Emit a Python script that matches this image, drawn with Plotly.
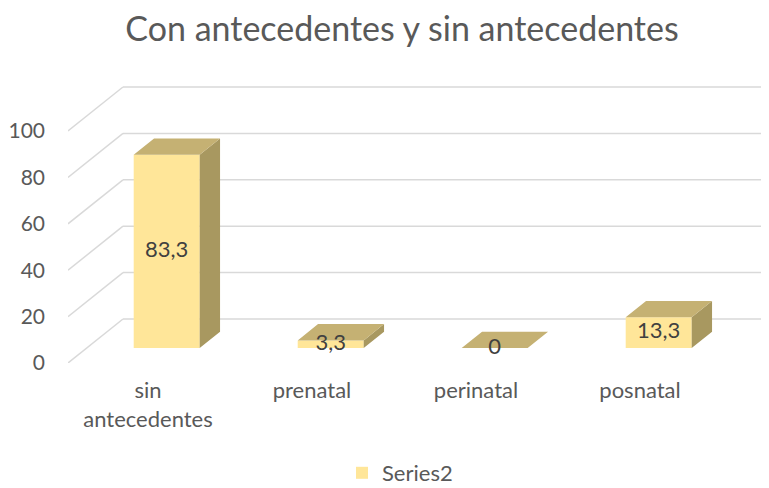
import plotly.graph_objects as go

# ---- data ----
categories = ["sin<br>antecedentes", "prenatal", "perinatal", "posnatal"]
values = [83.3, 3.3, 0, 13.3]
series_name = "Series2"
y_ticks = [0, 20, 40, 60, 80, 100]
title_text = "Con antecedentes y sin antecedentes"

# ---- page geometry (browser body has an 8px margin) ----
OFF = 8
FIG_W, FIG_H = 769 - OFF, 488 - OFF
PLOT_L = 68 - OFF          # left edge of plot area (page x = 68)
PLOT_T = 70 - OFF          # top of plot area (page y = 70)
PLOT_B = 363 - OFF         # bottom of plot area (page y = 363)

# ---- 3D look parameters (axis units) ----
PX_PER_CAT = 164.0
PX_PER_VAL = 2.32
DEPTH_DX = 55 / PX_PER_CAT      # full floor depth, horizontal
DEPTH_DY = 44 / PX_PER_VAL      # full floor depth, vertical
BAR_FRONT = 0.34                # bar front position (fraction of depth)
BAR_DEPTH = 0.37                # bar depth (fraction of depth)
BAR_W = 66 / PX_PER_CAT

PLOT_W = FIG_W - PLOT_L
PLOT_H = PLOT_B - PLOT_T
X_MIN = -80 / PX_PER_CAT
X_MAX = X_MIN + PLOT_W / PX_PER_CAT
Y_MAX = PLOT_H / PX_PER_VAL

FRONT_C = "#FFE699"
TOP_C = "#C5B173"
SIDE_C = "#A89860"
GRID_C = "#D9D9D9"
TEXT_C = "#595959"
FONT = "Lato"

fx = BAR_FRONT * DEPTH_DX
fy = BAR_FRONT * DEPTH_DY
ddx = BAR_DEPTH * DEPTH_DX
ddy = BAR_DEPTH * DEPTH_DY

xs = list(range(len(values)))
bar_x = [i + fx for i in xs]

fig = go.Figure()

# back wall and side gridlines as shapes below traces
shapes = []
for t in y_ticks:
    shapes.append(dict(type="line", xref="x", yref="y", layer="below",
                       x0=X_MIN + DEPTH_DX, x1=X_MAX, y0=t + DEPTH_DY, y1=t + DEPTH_DY,
                       line=dict(color=GRID_C, width=1.5)))
    shapes.append(dict(type="line", xref="x", yref="y", layer="below",
                       x0=X_MIN, x1=X_MIN + DEPTH_DX, y0=t, y1=t + DEPTH_DY,
                       line=dict(color=GRID_C, width=1.5)))

# front faces
fig.add_trace(go.Bar(
    x=bar_x, y=values, base=[fy] * len(values), width=BAR_W,
    marker=dict(color=FRONT_C, line=dict(width=0)),
    name=series_name, showlegend=True, hoverinfo="skip",
))

# top and side faces
top_x, top_y, side_x, side_y = [], [], [], []
for cx, v in zip(bar_x, values):
    x0, x1 = cx - BAR_W / 2, cx + BAR_W / 2
    ytop = fy + v
    top_x += [x0, x1, x1 + ddx, x0 + ddx, x0, None]
    top_y += [ytop, ytop, ytop + ddy, ytop + ddy, ytop, None]
    if v > 0:
        side_x += [x1, x1 + ddx, x1 + ddx, x1, x1, None]
        side_y += [fy, fy + ddy, ytop + ddy, ytop, fy, None]

fig.add_trace(go.Scatter(x=side_x, y=side_y, mode="lines", fill="toself",
                         fillcolor=SIDE_C, line=dict(width=0, color=SIDE_C),
                         showlegend=False, hoverinfo="skip"))
fig.add_trace(go.Scatter(x=top_x, y=top_y, mode="lines", fill="toself",
                         fillcolor=TOP_C, line=dict(width=0, color=TOP_C),
                         showlegend=False, hoverinfo="skip"))

# data labels
labels = [f"{v:g}".replace(".", ",") for v in values]
fig.add_trace(go.Scatter(
    x=bar_x, y=[fy + v / 2 for v in values], mode="text", text=labels,
    textposition="middle center",
    textfont=dict(family=FONT, size=22, color="#404040"),
    showlegend=False, hoverinfo="skip",
))

fig.update_layout(
    width=FIG_W, height=FIG_H,
    margin=dict(l=PLOT_L, r=0, t=PLOT_T, b=FIG_H - PLOT_B, pad=0, autoexpand=False),
    paper_bgcolor="white", plot_bgcolor="white",
    title=dict(text=title_text, x=(402 - OFF) / FIG_W, xref="container", xanchor="center",
               y=1 - (29.5 - OFF) / FIG_H, yref="container", yanchor="middle",
               font=dict(family=FONT, size=34, color=TEXT_C)),
    shapes=shapes,
    showlegend=True,
    legend=dict(orientation="h", x=(400 - OFF) / FIG_W, xref="container", xanchor="center",
                y=1 - (473 - OFF) / FIG_H, yref="container", yanchor="middle",
                font=dict(family=FONT, size=22, color=TEXT_C),
                bgcolor="rgba(0,0,0,0)"),
    xaxis=dict(range=[X_MIN, X_MAX], tickvals=xs, ticktext=categories,
               showgrid=False, zeroline=False, showline=False, ticks="",
               ticklabelstandoff=12, automargin=False,
               tickfont=dict(family=FONT, size=22, color=TEXT_C), fixedrange=True),
    yaxis=dict(range=[0, Y_MAX], tickvals=y_ticks, showgrid=False, zeroline=False,
               showline=False, ticks="", ticklabelstandoff=22, automargin=False,
               tickfont=dict(family=FONT, size=21, color=TEXT_C), fixedrange=True),
    font=dict(family=FONT),
)

fig.write_html("out.html")
